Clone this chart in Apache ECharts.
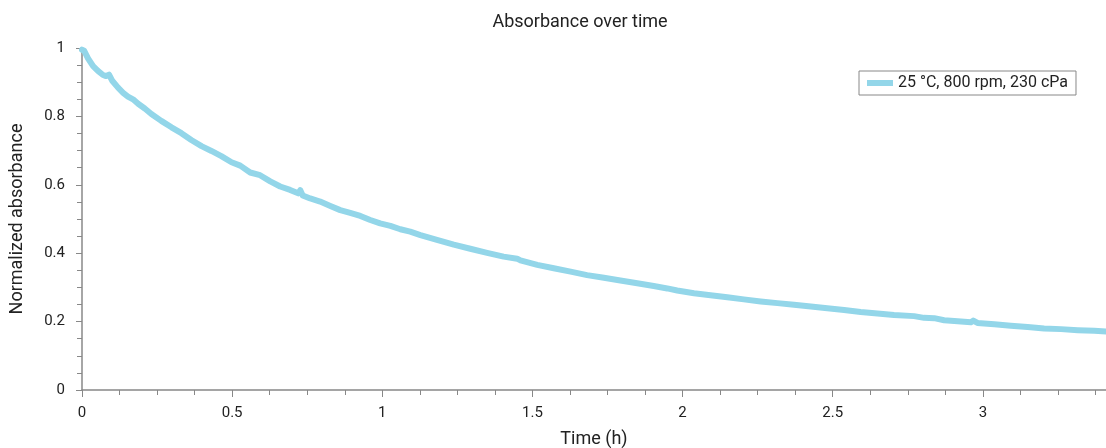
<!DOCTYPE html>
<html>
<head>
<meta charset="utf-8">
<script src="https://cdn.jsdelivr.net/npm/echarts@6/dist/echarts.min.js"></script>
<style>
  html, body { margin: 0; padding: 0; background: #fff; }
  #chart-container { width: 1106px; height: 448px; }
</style>
</head>
<body>
<div id="chart-container"></div>
<script>
// time in hours
var timeH = [
  0, 0.007, 0.020, 0.037, 0.053, 0.070, 0.080, 0.090, 0.100, 0.120, 0.137,
  0.153, 0.170, 0.187, 0.209, 0.231, 0.264, 0.298, 0.331, 0.364, 0.398,
  0.431, 0.464, 0.498, 0.527, 0.560, 0.593, 0.627, 0.660, 0.693, 0.720,
  0.727, 0.735, 0.760, 0.793, 0.827, 0.860, 0.893, 0.927, 0.960, 0.993,
  1.027, 1.060, 1.093, 1.127, 1.182, 1.238, 1.293, 1.349, 1.404, 1.449,
  1.460, 1.516, 1.571, 1.627, 1.682, 1.738, 1.793, 1.849, 1.904, 1.949,
  1.982, 2.038, 2.093, 2.149, 2.204, 2.260, 2.316, 2.371, 2.427, 2.482,
  2.538, 2.593, 2.649, 2.704, 2.771, 2.804, 2.838, 2.871, 2.916, 2.960,
  2.968, 2.982, 3.038, 3.093, 3.149, 3.204, 3.260, 3.316, 3.371, 3.410
];
// normalized absorbance
var absorbance = [
  0.995, 0.992, 0.970, 0.947, 0.933, 0.921, 0.918, 0.922, 0.905, 0.884, 0.869,
  0.858, 0.850, 0.837, 0.823, 0.807, 0.787, 0.768, 0.751, 0.731, 0.713,
  0.699, 0.684, 0.666, 0.656, 0.636, 0.628, 0.610, 0.595, 0.585, 0.575,
  0.584, 0.569, 0.560, 0.551, 0.538, 0.526, 0.518, 0.509, 0.497, 0.487,
  0.480, 0.470, 0.463, 0.453, 0.439, 0.425, 0.413, 0.401, 0.390, 0.384,
  0.379, 0.366, 0.356, 0.346, 0.336, 0.328, 0.320, 0.312, 0.304, 0.297,
  0.291, 0.283, 0.277, 0.271, 0.265, 0.259, 0.254, 0.249, 0.244, 0.239,
  0.234, 0.228, 0.224, 0.219, 0.216, 0.211, 0.210, 0.204, 0.201, 0.198,
  0.203, 0.196, 0.192, 0.188, 0.184, 0.180, 0.178, 0.175, 0.173, 0.171
];
var seriesName = "25 °C, 800 rpm, 230 cPa";

var points = timeH.map(function (t, i) { return [t, absorbance[i]]; });

var font = "Roboto";
var dom = document.getElementById("chart-container");
var myChart = echarts.init(dom, null, { renderer: "canvas" });

var option = {
  animation: false,
  title: {
    text: "Absorbance over time",
    left: 575,
    top: 8,
    textAlign: "center",
    textStyle: { fontFamily: font, fontSize: 18, fontWeight: "normal", color: "#222" }
  },
  legend: {
    left: 859,
    top: 71,
    icon: "rect",
    itemWidth: 26,
    itemHeight: 6,
    padding: [4, 8, 4, 8],
    borderColor: "#888",
    borderWidth: 1,
    backgroundColor: "#fff",
    textStyle: { fontFamily: font, fontSize: 16, color: "#222" },
    data: [seriesName]
  },
  grid: { left: 82, right: 0, top: 48, bottom: 58, outerBoundsMode: "none", containLabel: false },
  xAxis: {
    type: "value",
    min: 0,
    max: 3.41,
    interval: 0.5,
    name: "Time (h)",
    nameLocation: "middle",
    nameGap: 40,
    nameTextStyle: { fontFamily: font, fontSize: 18, color: "#222" },
    axisLine: { lineStyle: { color: "#888", width: 1.5 } },
    axisTick: { show: true, length: 7, lineStyle: { color: "#888" } },
    minorTick: { show: true, splitNumber: 4, length: 5, lineStyle: { color: "#888" } },
    axisLabel: { fontFamily: font, fontSize: 15, color: "#222", margin: 16, showMaxLabel: false },
    splitLine: { show: false }
  },
  yAxis: {
    type: "value",
    min: 0,
    max: 1,
    interval: 0.2,
    name: "Normalized absorbance",
    nameLocation: "middle",
    nameGap: 56,
    nameTextStyle: { fontFamily: font, fontSize: 18, color: "#222" },
    axisLine: { show: true, lineStyle: { color: "#888", width: 1.5 } },
    axisTick: { show: true, length: 6, lineStyle: { color: "#888" } },
    minorTick: { show: true, splitNumber: 4, length: 5, lineStyle: { color: "#888" } },
    axisLabel: { fontFamily: font, fontSize: 15, color: "#222", margin: 17 },
    splitLine: { show: false }
  },
  series: [
    {
      name: seriesName,
      type: "line",
      data: points,
      showSymbol: false,
      symbol: "none",
      color: "#93d6e9",
      lineStyle: { color: "#93d6e9", width: 6, join: "round", cap: "round" }
    }
  ]
};

myChart.setOption(option);
window.addEventListener("resize", myChart.resize);
</script>
</body>
</html>
